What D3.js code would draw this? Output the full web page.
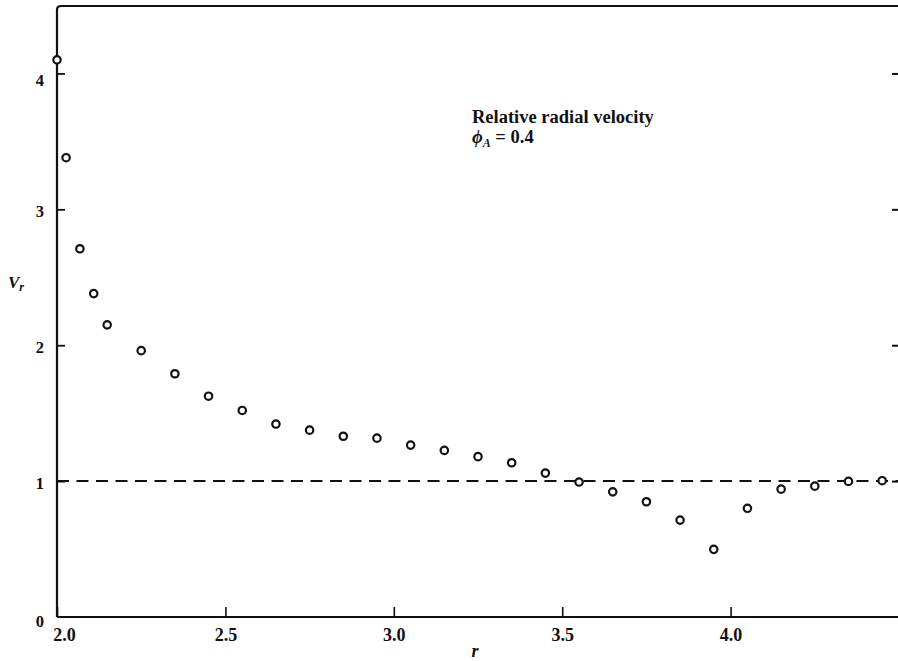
<!DOCTYPE html>
<html>
<head>
<meta charset="utf-8">
<script src="https://cdn.jsdelivr.net/npm/d3@7"></script>
<style>
  html, body { margin: 0; padding: 0; background: #fff; }
  svg { display: block; }
  text { font-family: "Liberation Serif", "Times New Roman", serif; fill: #111; }
</style>
</head>
<body>
<svg id="chart" width="898" height="661"></svg>
<script>
// ---- data ----
const rValues = [2.0, 2.027, 2.068, 2.109, 2.149, 2.25, 2.35, 2.45, 2.55, 2.65, 2.75, 2.85, 2.95,
                 3.05, 3.15, 3.25, 3.35, 3.45, 3.55, 3.65, 3.75, 3.85, 3.95, 4.05, 4.15, 4.25, 4.35, 4.45];
const vrValues = [4.10, 3.38, 2.71, 2.38, 2.15, 1.96, 1.79, 1.625, 1.52, 1.42, 1.375, 1.33, 1.316,
                  1.265, 1.226, 1.18, 1.135, 1.059, 0.993, 0.921, 0.848, 0.713, 0.498, 0.80, 0.941, 0.963, 0.998, 1.003];
const xTicks = [2.0, 2.5, 3.0, 3.5, 4.0];
const xTickLabels = ["2.0", "2.5", "3.0", "3.5", "4.0"];
const yTicks = [0, 1, 2, 3, 4];
const yTickLabels = ["0", "1", "2", "3", "4"];
const referenceLevel = [1];

// ---- layout ----
const svg = d3.select("#chart");
const mLeft = 57, mRight = 899, mTop = 6, mBottom = 617;
const x = d3.scaleLinear().domain([2.0, 4.5]).range([mLeft, mRight]);
const y = d3.scaleLinear().domain([0, 4.5]).range([mBottom, mTop - 0.5]);

// frame lines (left, bottom, top)
const frame = svg.append("g").attr("stroke", "#111").attr("stroke-width", 2.2).attr("fill", "none");
frame.append("path").attr("d", `M${mLeft},${mBottom} L${mLeft},${mTop + 4} Q${mLeft},${mTop} ${mLeft + 4},${mTop} L${mRight},${mTop}`);
frame.append("line").attr("x1", mLeft).attr("x2", mRight).attr("y1", mBottom).attr("y2", mBottom);

// left axis (ticks pointing inward)
const yAxis = d3.axisLeft(y).tickValues(yTicks).tickFormat((d, i) => yTickLabels[i]).tickSize(-8).tickPadding(13);
const gy = svg.append("g").attr("transform", `translate(${mLeft},0)`).call(yAxis);
gy.select(".domain").remove();
gy.selectAll(".tick line").attr("stroke", "#111").attr("stroke-width", 1.8);
gy.selectAll(".tick").filter(d => d === 0).select("line").remove();
gy.selectAll(".tick text")
  .attr("font-family", "'Liberation Sans', Arial, sans-serif")
  .attr("font-weight", "bold").attr("font-size", 16.5).attr("fill", "#111")
  .attr("dy", d => d === 4 ? "0.75em" : (d === 0 ? "0.55em" : "0.42em"));

// right axis ticks (inward)
const yAxisR = d3.axisRight(y).tickValues(yTicks.filter(d => d > 0)).tickSize(-6).tickFormat("");
const gyr = svg.append("g").attr("transform", `translate(898,0)`).call(yAxisR);
gyr.select(".domain").remove();
gyr.selectAll(".tick line").attr("stroke", "#111").attr("stroke-width", 2);

// bottom axis (ticks pointing up)
const xAxis = d3.axisBottom(x).tickValues(xTicks).tickFormat((d, i) => xTickLabels[i]).tickSize(-10).tickPadding(11);
const gx = svg.append("g").attr("transform", `translate(0,${mBottom})`).call(xAxis);
gx.select(".domain").remove();
gx.selectAll(".tick line").attr("stroke", "#111").attr("stroke-width", 1.6);
gx.selectAll(".tick text")
  .attr("font-family", "'Liberation Serif', 'Times New Roman', serif")
  .attr("font-weight", "bold").attr("font-size", 18).attr("fill", "#111")
  .attr("dx", d => d === 2.0 ? 7 : 0);

// reference dashed line
svg.selectAll("line.ref").data(referenceLevel).enter().append("line")
  .attr("class", "ref")
  .attr("x1", mLeft).attr("x2", mRight)
  .attr("y1", d => y(d)).attr("y2", d => y(d))
  .attr("stroke", "#111").attr("stroke-width", 2).attr("stroke-dasharray", "12,7.5");

// points
svg.append("g").selectAll("circle").data(rValues.map((r, i) => ({ r, v: vrValues[i] })))
  .enter().append("circle")
  .attr("cx", d => x(d.r)).attr("cy", d => y(d.v)).attr("r", 3.7)
  .attr("fill", "#fff").attr("stroke", "#111").attr("stroke-width", 2.2);

// annotation
const ann = svg.append("text").attr("x", 472).attr("y", 123)
  .attr("font-weight", "bold").attr("font-size", 18.5);
ann.append("tspan").text("Relative radial velocity");
const ann2 = svg.append("text").attr("x", 472).attr("y", 143)
  .attr("font-weight", "bold").attr("font-size", 18.5);
ann2.append("tspan").attr("font-style", "italic").text("ϕ");
ann2.append("tspan").attr("font-style", "italic").attr("font-size", 12).attr("dy", 4).text("A");
ann2.append("tspan").attr("dy", -4).text(" = 0.4");

// axis titles
const yl = svg.append("text").attr("x", 8).attr("y", 288)
  .attr("font-weight", "bold").attr("font-style", "italic").attr("font-size", 17);
yl.append("tspan").text("V");
yl.append("tspan").attr("font-size", 12).attr("dy", 3).text("r");

svg.append("text").attr("x", 475).attr("y", 657).attr("text-anchor", "middle")
  .attr("font-weight", "bold").attr("font-style", "italic").attr("font-size", 18).text("r");
</script>
</body>
</html>
